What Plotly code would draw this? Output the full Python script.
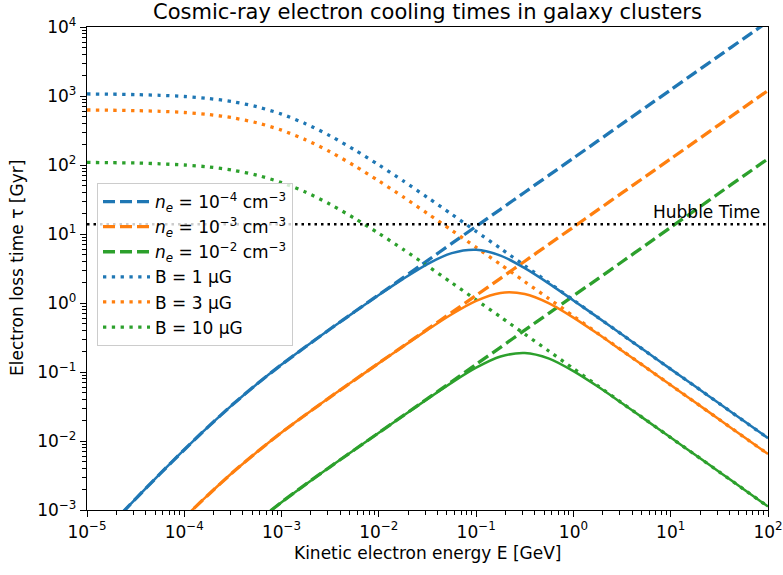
import plotly.graph_objects as go

# Kinetic electron energy [GeV] (quarter-decade samples)
energy_gev = [1.00e-5, 1.78e-5, 3.16e-5, 5.62e-5,
              1.00e-4, 1.78e-4, 3.16e-4, 5.62e-4,
              1.00e-3, 1.78e-3, 3.16e-3, 5.62e-3,
              1.00e-2, 1.78e-2, 3.16e-2, 5.62e-2,
              1.00e-1, 1.78e-1, 3.16e-1, 5.62e-1,
              1.00, 1.78, 3.16, 5.62,
              10.0, 17.8, 31.6, 56.2, 100.0]

# Coulomb loss times [Gyr] (dashed)
coul_ne4 = [2.65e-4, 6.24e-4, 1.45e-3, 3.33e-3, 7.48e-3, 0.0163, 0.0340, 0.0675,
            0.128, 0.234, 0.420, 0.747, 1.32, 2.33, 4.12, 7.29, 12.9, 22.8, 40.3,
            71.2, 126, 223, 394, 696, 1230, 2180, 3850, 6800, 12000]
coul_ne3 = [2.75e-5, 6.46e-5, 1.50e-4, 3.44e-4, 7.74e-4, 1.68e-3, 3.52e-3, 6.98e-3,
            0.0133, 0.0242, 0.0433, 0.0765, 0.135, 0.237, 0.417, 0.733, 1.29, 2.28,
            4.03, 7.12, 12.6, 22.3, 39.4, 69.6, 123, 218, 385, 680, 1200]
coul_ne2 = [2.69e-6, 6.31e-6, 1.47e-5, 3.37e-5, 7.57e-5, 1.64e-4, 3.44e-4, 6.82e-4,
            1.30e-3, 2.37e-3, 4.23e-3, 7.47e-3, 0.0132, 0.0233, 0.0411, 0.0728, 0.129,
            0.228, 0.404, 0.715, 1.27, 2.24, 3.96, 7.03, 12.5, 22.1, 39.3, 69.5, 123]

# Synchrotron + inverse-Compton loss times [Gyr] (dotted)
sync_b1 = [1070, 1062, 1048, 1024, 984, 920, 825, 697, 546, 394, 264, 166, 100,
           58.7, 33.8, 19.3, 10.9, 6.18, 3.48, 1.96, 1.10, 0.621, 0.349, 0.196,
           0.110, 0.0621, 0.0349, 0.0196, 0.0110]
sync_b3 = [627, 622, 614, 600, 577, 539, 483, 408, 320, 231, 155, 97.4, 58.7, 34.4,
           19.8, 11.3, 6.40, 3.62, 2.04, 1.15, 0.646, 0.364, 0.205, 0.115, 0.0647,
           0.0364, 0.0205, 0.0115, 0.00647]
sync_b10 = [109, 108, 107, 104, 100, 93.7, 84.0, 71.0, 55.6, 40.2, 26.9, 16.9, 10.2,
            5.98, 3.44, 1.96, 1.11, 0.629, 0.354, 0.200, 0.112, 0.0632, 0.0355,
            0.0200, 0.0112, 0.00632, 0.00356, 0.00200, 0.00112]

# Total loss times [Gyr] (solid)
total_1 = [2.65e-4, 6.24e-4, 1.45e-3, 3.33e-3, 7.48e-3, 0.0163, 0.0340, 0.0674,
           0.128, 0.234, 0.419, 0.744, 1.31, 2.24, 3.67, 5.29, 5.91, 4.86, 3.20,
           1.91, 1.09, 0.619, 0.349, 0.196, 0.110, 0.0621, 0.0349, 0.0196, 0.0110]
total_2 = [2.75e-5, 6.46e-5, 1.50e-4, 3.44e-4, 7.74e-4, 1.68e-3, 3.52e-3, 6.98e-3,
           0.0133, 0.0242, 0.0433, 0.0764, 0.1344, 0.2354, 0.408, 0.688, 1.074, 1.40,
           1.35, 0.989, 0.615, 0.358, 0.203, 0.115, 0.0647, 0.0364, 0.0205, 0.0115,
           0.00647]
total_3 = [2.69e-6, 6.31e-6, 1.47e-5, 3.37e-5, 7.57e-5, 1.64e-4, 3.44e-4, 6.82e-4,
           1.30e-3, 2.37e-3, 4.23e-3, 7.47e-3, 0.01315, 0.0232, 0.0406, 0.0702, 0.1154,
           0.1674, 0.1886, 0.1563, 0.1029, 0.0615, 0.0352, 0.0199, 0.0112, 0.00632,
           0.00356, 0.00200, 0.00112]

hubble_time = 13.8
x_limits = [1e-5, 1e2]

x_tickvals = [1e-5, 1e-4, 1e-3, 1e-2, 1e-1, 1e0, 1e1, 1e2]
x_ticktext = ["10<sup>−5</sup>", "10<sup>−4</sup>", "10<sup>−3</sup>", "10<sup>−2</sup>",
              "10<sup>−1</sup>", "10<sup>0</sup>", "10<sup>1</sup>", "10<sup>2</sup>"]
y_tickvals = [1e-3, 1e-2, 1e-1, 1e0, 1e1, 1e2, 1e3, 1e4]
y_ticktext = ["10<sup>−3</sup>", "10<sup>−2</sup>", "10<sup>−1</sup>", "10<sup>0</sup>",
              "10<sup>1</sup>", "10<sup>2</sup>", "10<sup>3</sup>", "10<sup>4</sup>"]

coul_labels = ["<i>n<sub>e</sub></i> = 10<sup>−4</sup> cm<sup>−3</sup>",
               "<i>n<sub>e</sub></i> = 10<sup>−3</sup> cm<sup>−3</sup>",
               "<i>n<sub>e</sub></i> = 10<sup>−2</sup> cm<sup>−3</sup>"]
sync_labels = ["B = 1 μG", "B = 3 μG", "B = 10 μG"]
colors = ["#1f77b4", "#ff7f0e", "#2ca02c"]

FONT = "DejaVu Sans"
FS = 17
SMOOTH = 0.8
fig = go.Figure()

for ys, lab, c in zip([coul_ne4, coul_ne3, coul_ne2], coul_labels, colors):
    fig.add_trace(go.Scatter(x=energy_gev, y=ys, mode="lines", name=lab,
                             line=dict(color=c, width=3.3, dash="12px,5px",
                                       shape="spline", smoothing=SMOOTH)))
for ys, lab, c in zip([sync_b1, sync_b3, sync_b10], sync_labels, colors):
    fig.add_trace(go.Scatter(x=energy_gev, y=ys, mode="lines", name=lab,
                             line=dict(color=c, width=3.3, dash="3.3px,5.5px",
                                       shape="spline", smoothing=SMOOTH)))
for ys, c in zip([total_1, total_2, total_3], colors):
    fig.add_trace(go.Scatter(x=energy_gev, y=ys, mode="lines", showlegend=False,
                             line=dict(color=c, width=2.5,
                                       shape="spline", smoothing=SMOOTH)))

fig.add_trace(go.Scatter(x=x_limits, y=[hubble_time, hubble_time], mode="lines",
                         showlegend=False,
                         line=dict(color="black", width=2.5, dash="2.5px,4px")))

fig.add_annotation(x=1.94, y=1.14, xref="x", yref="y", text="Hubble Time",
                   showarrow=False, xanchor="right", yanchor="bottom", yshift=0,
                   font=dict(family=FONT, size=FS, color="black"))

# axis titles
fig.add_annotation(x=0.5, y=-(553 - 510) / 483, xref="paper", yref="paper",
                   text="Kinetic electron energy E [GeV]", showarrow=False,
                   xanchor="center", yanchor="middle",
                   font=dict(family=FONT, size=FS, color="black"))
fig.add_annotation(x=-(87 - 17) / 681, y=(510 - 268) / 483, xref="paper", yref="paper",
                   text="Electron loss time τ [Gyr]", showarrow=False, textangle=-90,
                   xanchor="center", yanchor="middle",
                   font=dict(family=FONT, size=FS, color="black"))

axis_common = dict(type="log", showline=True, linecolor="black", linewidth=1.3,
                   mirror=True, ticks="outside", ticklen=6, tickwidth=1.3,
                   tickcolor="black", showgrid=False, zeroline=False,
                   automargin=False, tickmode="array",
                   tickfont=dict(family=FONT, size=FS, color="black"),
                   minor=dict(ticks="outside", ticklen=3.5, tickwidth=1,
                              tickcolor="black", dtick="D1", showgrid=False))

fig.update_xaxes(range=[-5, 2], tickvals=x_tickvals, ticktext=x_ticktext, **axis_common)
fig.update_yaxes(range=[-3, 4], tickvals=y_tickvals, ticktext=y_ticktext, **axis_common)

fig.update_layout(
    width=783, height=575,
    margin=dict(l=87, r=15, t=27, b=65),
    plot_bgcolor="white", paper_bgcolor="white",
    title=dict(text="Cosmic-ray electron cooling times in galaxy clusters",
               x=0.5, xref="paper", xanchor="center",
               y=1 - 12 / 575, yref="container", yanchor="middle",
               font=dict(family=FONT, size=21, color="black")),
    font=dict(family=FONT, color="black"),
    legend=dict(x=0.0147, y=0.677, xanchor="left", yanchor="top",
                bgcolor="rgba(255,255,255,0.8)", bordercolor="#cccccc",
                borderwidth=1, itemwidth=47,
                font=dict(family=FONT, size=FS, color="black")),
)

fig.write_html("out.html")
